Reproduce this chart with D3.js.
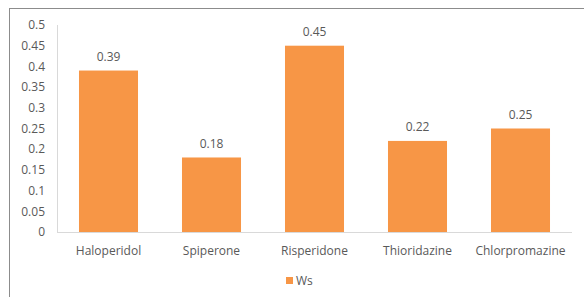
<!DOCTYPE html>
<html>
<head>
<meta charset="utf-8">
<script src="https://cdn.jsdelivr.net/npm/d3@7"></script>
<style>
  body { margin: 0; background: #fff; }
  svg { display: block; font-family: "Open Sans", sans-serif; }
</style>
</head>
<body>
<svg width="584" height="297"></svg>
<script>
// chart data
let drugs = ["Haloperidol", "Spiperone", "Risperidone", "Thioridazine", "Chlorpromazine"];
let wsValues = [0.39, 0.18, 0.45, 0.22, 0.25];
let yTicks = [0, 0.05, 0.1, 0.15, 0.2, 0.25, 0.3, 0.35, 0.4, 0.45, 0.5];
let seriesName = "Ws";

let svg = d3.select("svg");
let textColor = "#595959";

// outer frame
svg.append("rect")
    .attr("x", 9.5).attr("y", 8.5)
    .attr("width", 600).attr("height", 300)
    .attr("fill", "none").attr("stroke", "#8c8c8c");

let x = d3.scaleBand().domain(drugs).range([57, 572]).paddingInner(0.427).paddingOuter(0.2135);
let y = d3.scaleLinear().domain([0, 0.5]).range([232, 25]);

let g = svg.append("g");

// y axis line
g.append("line")
    .attr("x1", 57.5).attr("x2", 57.5)
    .attr("y1", y(0.5)).attr("y2", y(0))
    .attr("stroke", "#d9d9d9");

g.selectAll(".ytick").data(yTicks).enter().append("text")
    .attr("class", "ytick")
    .attr("x", 45).attr("y", d => y(d))
    .attr("dy", "0.35em")
    .attr("text-anchor", "end")
    .attr("font-size", 12)
    .attr("fill", textColor)
    .text(d => d3.format("")(d));

// bars
g.selectAll(".bar").data(wsValues).enter().append("rect")
    .attr("class", "bar")
    .attr("x", (d, i) => x(drugs[i]))
    .attr("y", d => y(d))
    .attr("width", x.bandwidth())
    .attr("height", d => y(0) - y(d))
    .attr("fill", "#f79646");

// value labels
g.selectAll(".val").data(wsValues).enter().append("text")
    .attr("class", "val")
    .attr("x", (d, i) => x(drugs[i]) + x.bandwidth() / 2)
    .attr("y", d => y(d) - 14)
    .attr("dy", "0.35em")
    .attr("text-anchor", "middle")
    .attr("font-size", 12)
    .attr("fill", textColor)
    .text(d => d);

// x axis line
g.append("line")
    .attr("x1", 57).attr("x2", 572)
    .attr("y1", y(0) + 0.5).attr("y2", y(0) + 0.5)
    .attr("stroke", "#d9d9d9");

g.selectAll(".xlab").data(drugs).enter().append("text")
    .attr("class", "xlab")
    .attr("x", d => x(d) + x.bandwidth() / 2)
    .attr("y", 251)
    .attr("dy", "0.35em")
    .attr("text-anchor", "middle")
    .attr("font-size", 12)
    .attr("fill", textColor)
    .text(d => d);

// legend
let lg = svg.append("g").attr("transform", "translate(286,277)");
lg.append("rect").attr("width", 7).attr("height", 7).attr("fill", "#f79646");
lg.append("text")
    .attr("x", 10).attr("y", 4)
    .attr("dy", "0.35em")
    .attr("font-size", 12)
    .attr("fill", textColor)
    .text(seriesName);
</script>
</body>
</html>
